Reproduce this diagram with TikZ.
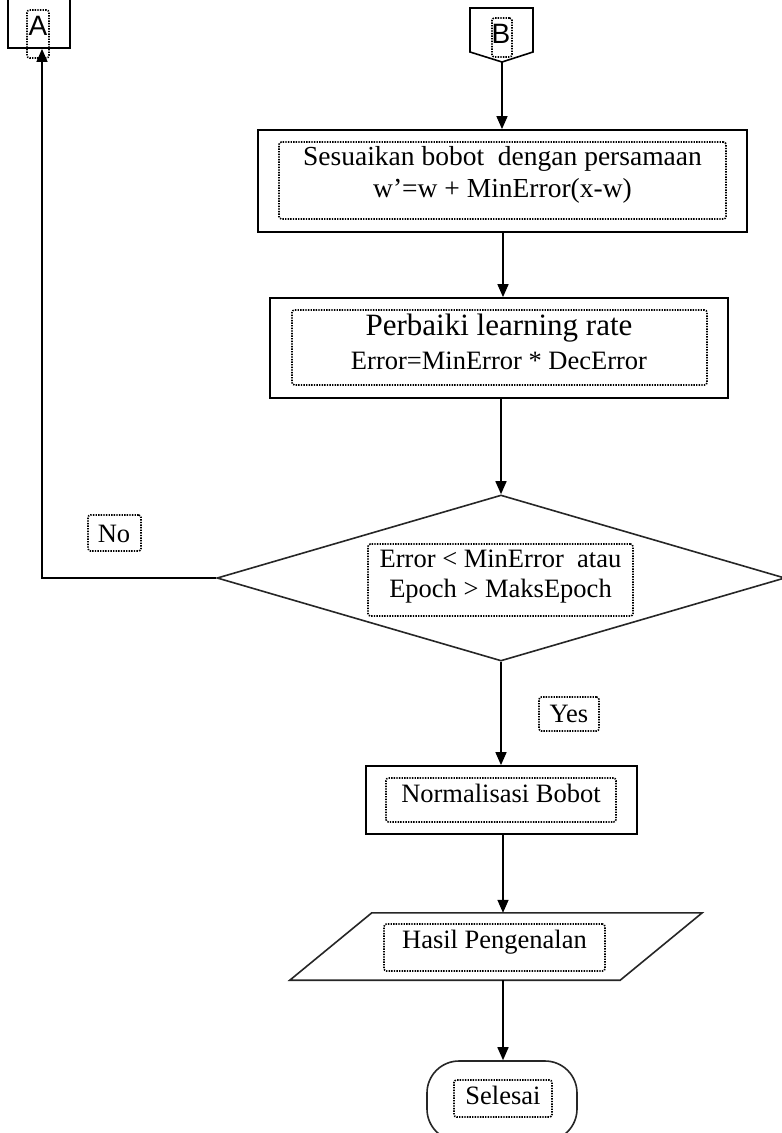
\documentclass[tikz,border=0pt]{standalone}
\usepackage{fontspec}
\setmainfont{Liberation Serif}
\newfontfamily\connfont{Liberation Sans}
\usetikzlibrary{arrows.meta,shapes.geometric,calc}
\begin{document}
\begin{tikzpicture}[x=1pt,y=-1pt,
  flowbox/.style={draw=black, line width=1.8pt, rectangle, inner sep=0pt},
  shapeline/.style={draw=black!85, line width=1.6pt, inner sep=0pt},
  lblbox/.style={draw=black, line width=1.6pt, dash pattern=on 1.4pt off 1.2pt,
                 rounded corners=2.5pt, inner sep=0pt},
  txt/.style={anchor=base, inner sep=0pt, font=\fontsize{26.5}{30}\selectfont},
  conntxt/.style={anchor=base, inner sep=0pt, font=\connfont\fontsize{28}{30}\selectfont},
  flow/.style={line width=1.6pt, -{Triangle[length=13pt,width=11pt]}}]
\useasboundingbox (0,0) rectangle (782,1133);
\fill[white] (0,0) rectangle (782,1133);
\clip (0,0) rectangle (782,1133);

% off-page connector A (continues above)
\node[flowbox, minimum width=62, minimum height=100] (A) at (39,-2) {};
\node[lblbox, minimum width=22, minimum height=48] (Albl) at (38,34) {};
\node[conntxt] (Atxt) at (38,35) {A};

% off-page connector B
\draw[line width=1.6pt] (470,8) -- (533,8) -- (533,52) -- (502,62) -- (470,52) -- cycle;
\coordinate (Bpt) at (502,62);
\node[lblbox, minimum width=20, minimum height=39] (Blbl) at (502,37.5) {};
\node[conntxt] (Btxt) at (501,43) {B};

% weight update
\node[flowbox, minimum width=489, minimum height=102] (adjust) at (502.5,181) {};
\node[lblbox, minimum width=447, minimum height=77] (adjustlbl) at (502.5,180.5) {};
\node[txt, font=\fontsize{27.5}{30}\selectfont] (adj1) at (502.5,165) {Sesuaikan bobot\ \ dengan persamaan};
\node[txt, font=\fontsize{27.5}{30}\selectfont] (adj2) at (502.5,197) {w’=w + MinError(x-w)};

% learning rate update
\node[flowbox, minimum width=458, minimum height=100] (rate) at (499,348) {};
\node[lblbox, minimum width=415, minimum height=75] (ratelbl) at (499.5,347.5) {};
\node[txt, font=\fontsize{31}{34}\selectfont] (rate1) at (499,335) {Perbaiki learning rate};
\node[txt] (rate2) at (499,369) {Error=MinError * DecError};

% stop condition
\node[shapeline, diamond, minimum width=568, minimum height=166] (dec) at (501,578) {};
\node[lblbox, minimum width=265, minimum height=72] (declbl) at (500.5,580) {};
\node[txt] (dec1) at (500.5,567) {Error < MinError\ \ atau};
\node[txt] (dec2) at (500.5,597) {Epoch > MaksEpoch};

% branch labels
\node[lblbox, minimum width=53, minimum height=36] (nolbl) at (114.5,533) {};
\node[txt] (notxt) at (114,542) {No};
\node[lblbox, minimum width=60, minimum height=34] (yeslbl) at (569,714) {};
\node[txt] (yestxt) at (569,722) {Yes};

% normalisation
\node[flowbox, minimum width=271, minimum height=68] (norm) at (501.5,800) {};
\node[lblbox, minimum width=230, minimum height=44] (normlbl) at (501,800) {};
\node[txt] (normtxt) at (501,802) {Normalisasi Bobot};

% output: parallelogram slanted by 41 on each side of the node box
\node[inner sep=0pt, minimum width=330, minimum height=67] (out) at (496,946.5) {};
\draw[draw=black!85, line width=1.6pt, line join=miter]
  ($(out.north west)+(41,0)$) -- ($(out.north east)+(41,0)$)
  -- ($(out.south east)+(-41,0)$) -- ($(out.south west)+(-41,0)$) -- cycle;
\node[lblbox, minimum width=221, minimum height=47] (outlbl) at (494.5,947.5) {};
\node[txt] (outtxt) at (494.5,948) {Hasil Pengenalan};

% terminator
\node[shapeline, rectangle, rounded corners=32pt, minimum width=150, minimum height=80] (end) at (502,1101) {};
\node[lblbox, minimum width=98, minimum height=37] (endlbl) at (503,1098.5) {};
\node[txt] (endtxt) at (503,1104) {Selesai};

% connectors
\coordinate (spine) at (503,0);
\coordinate (turn) at (42,578);
\draw[flow] (Bpt) -- (Bpt |- adjust.north);
\draw[flow] (spine |- adjust.south) -- (spine |- rate.north);
\draw[flow] (dec.north |- rate.south) -- (dec.north);
\draw[flow] (dec.south) -- (dec.south |- norm.north);
\draw[flow] (spine |- norm.south) -- (spine |- out.north);
\draw[flow] (spine |- out.south) -- (spine |- end.north);
\draw[flow] (dec.west) -- (turn) -- (turn |- A.south);
\end{tikzpicture}
\end{document}
